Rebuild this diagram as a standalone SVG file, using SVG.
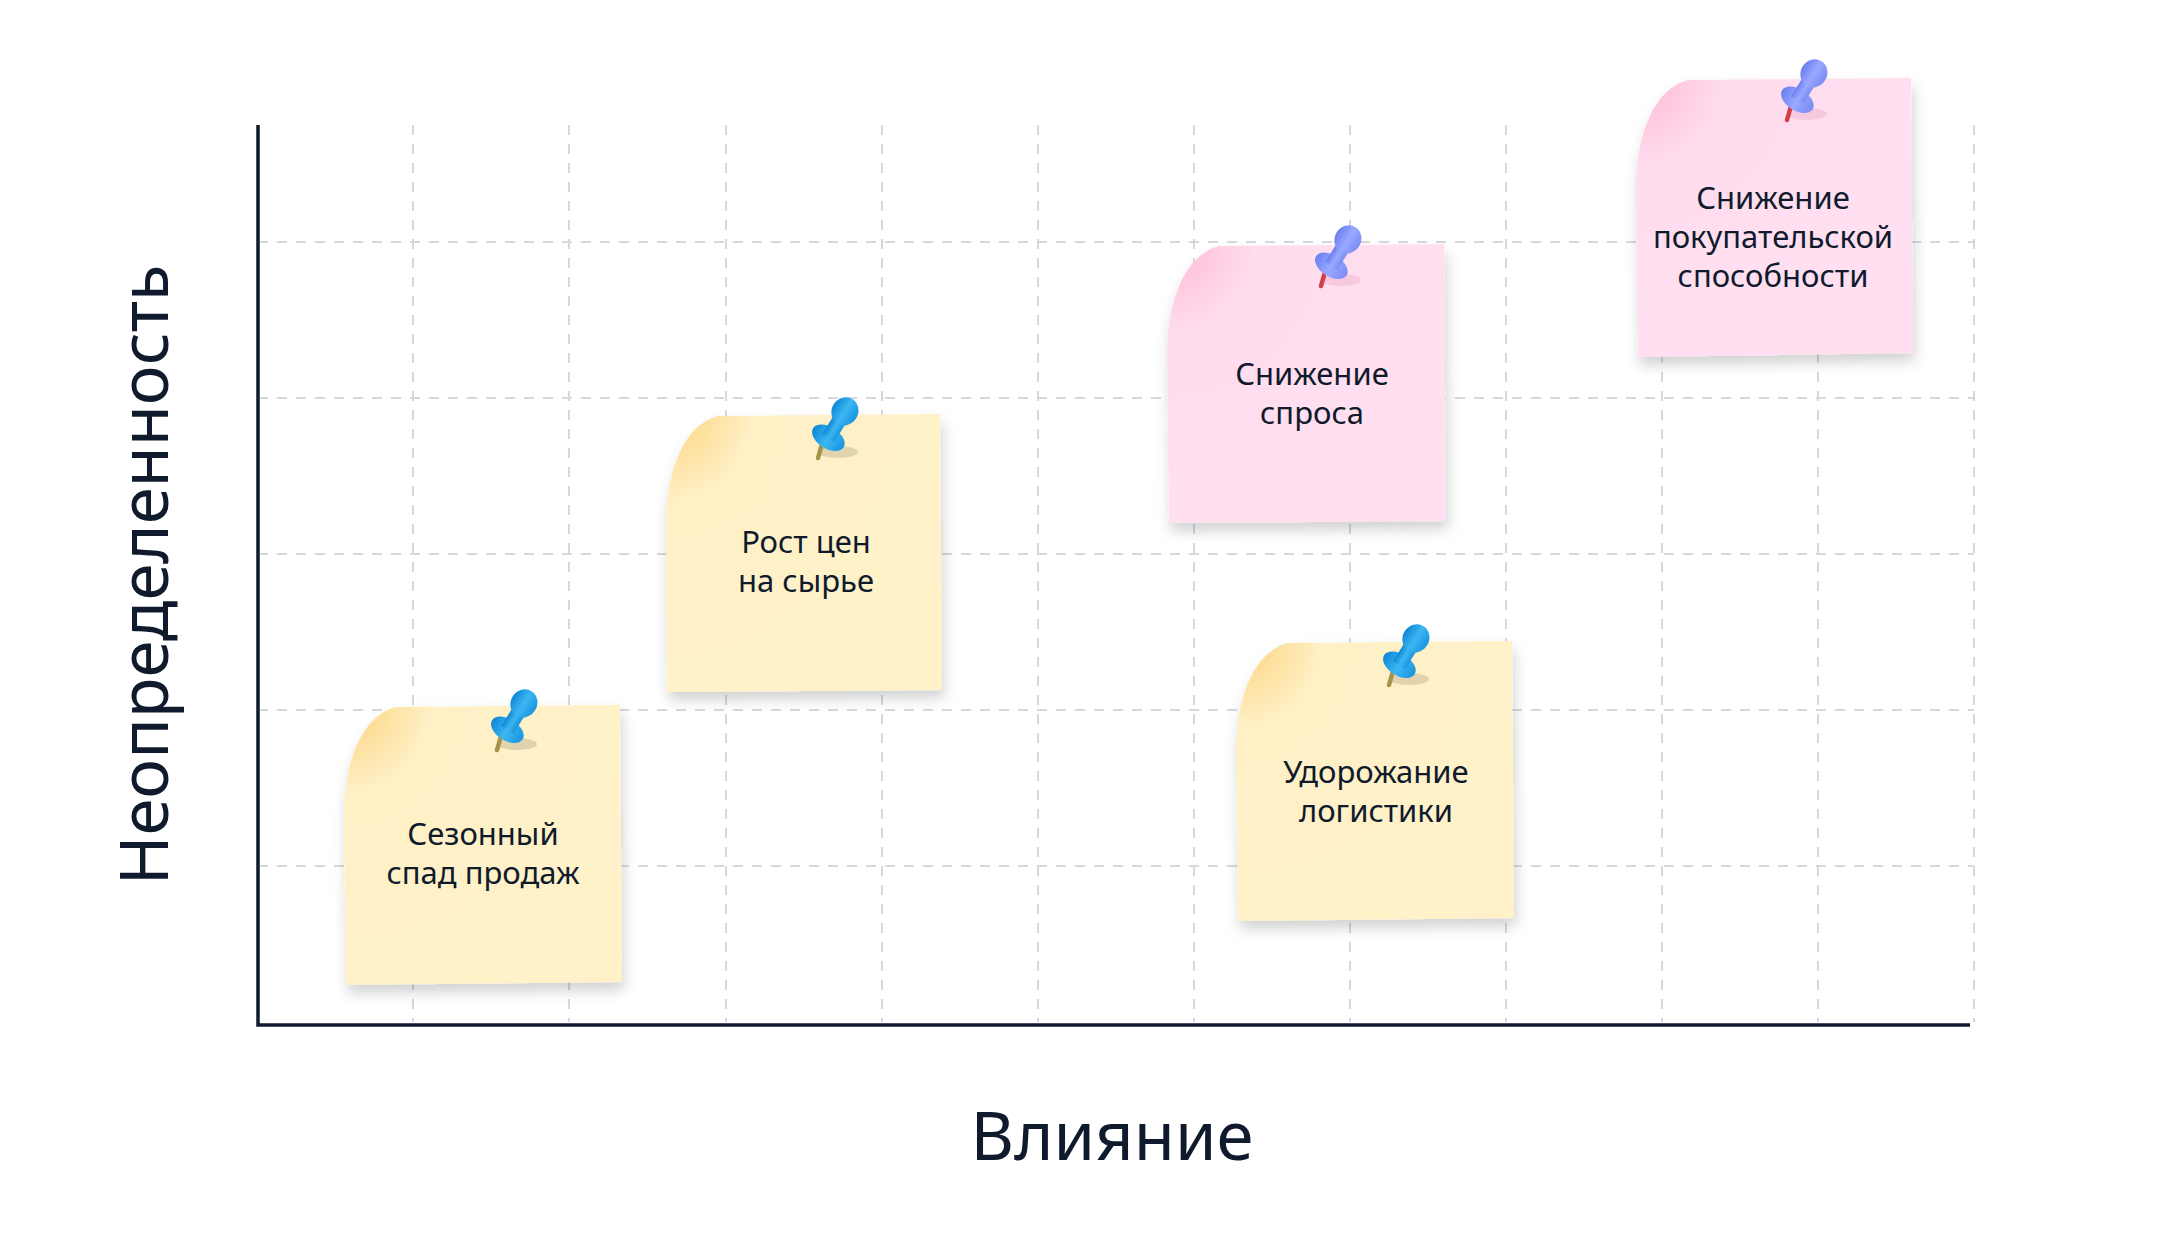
<svg xmlns="http://www.w3.org/2000/svg" width="2160" height="1251" viewBox="0 0 2160 1251">
<defs>
<style>
.grid{stroke:#d6d8dc;stroke-width:2;stroke-dasharray:10 9;fill:none}
.axis{stroke:#0f1b2d;stroke-width:3.5;fill:none}
.nt{font-family:"Noto Sans","Open Sans",sans-serif;font-size:31px;fill:#0f1b2d;text-anchor:middle}
.ax{font-family:"Noto Sans","Open Sans",sans-serif;font-size:67px;fill:#0f1b2d;text-anchor:middle}
</style>
<radialGradient id="gy" cx="0" cy="0" r="0.9">
<stop offset="0" stop-color="#fcd27a"/><stop offset="0.35" stop-color="#fff0c6"/><stop offset="1" stop-color="#fff1c8"/>
</radialGradient>
<radialGradient id="gp" cx="0" cy="0" r="0.9">
<stop offset="0" stop-color="#ffb8d2"/><stop offset="0.35" stop-color="#ffdcee"/><stop offset="1" stop-color="#ffdff0"/>
</radialGradient>
<linearGradient id="pb" x1="0" y1="0" x2="1" y2="0">
<stop offset="0" stop-color="#0d86d6"/><stop offset="0.5" stop-color="#3cb6f2"/><stop offset="1" stop-color="#1a95e0"/>
</linearGradient>
<linearGradient id="pv" x1="0" y1="0" x2="1" y2="0">
<stop offset="0" stop-color="#6b7ff0"/><stop offset="0.5" stop-color="#9aa8ff"/><stop offset="1" stop-color="#7a8cf5"/>
</linearGradient>
<filter id="sh" x="-10%" y="-10%" width="125%" height="130%">
<feDropShadow dx="2" dy="8" stdDeviation="7" flood-color="#000" flood-opacity="0.18"/>
</filter>
<g id="pinB">
<ellipse cx="20" cy="-6" rx="20" ry="6" fill="#000" opacity="0.12"/>
<line x1="0" y1="0" x2="4" y2="-14" stroke="#a8924a" stroke-width="4.5" stroke-linecap="round"/>
<g transform="translate(4 -10) rotate(32) scale(1.2)">
<ellipse cx="0" cy="-10" rx="15" ry="9" fill="url(#pb)"/>
<rect x="-6" y="-32" width="12" height="22" fill="url(#pb)"/>
<ellipse cx="0" cy="-36" rx="11" ry="12" fill="url(#pb)"/>
</g>
</g>
<g id="pinV">
<ellipse cx="20" cy="-6" rx="20" ry="6" fill="#c03060" opacity="0.12"/>
<line x1="0" y1="0" x2="4" y2="-14" stroke="#d0404a" stroke-width="4.5" stroke-linecap="round"/>
<g transform="translate(4 -10) rotate(32) scale(1.2)">
<ellipse cx="0" cy="-10" rx="15" ry="9" fill="url(#pv)"/>
<rect x="-6" y="-32" width="12" height="22" fill="url(#pv)"/>
<ellipse cx="0" cy="-36" rx="11" ry="12" fill="url(#pv)"/>
</g>
</g>
</defs>
<rect width="2160" height="1251" fill="#fff"/>
<g id="grid">
<path class="grid" d="M413 125V1022M569 125V1022M726 125V1022M882 125V1022M1038 125V1022M1194 125V1022M1350 125V1022M1506 125V1022M1662 125V1022M1818 125V1022M1974 125V1022"/>
<path class="grid" d="M258 866H1974M258 710H1974M258 554H1974M258 398H1974M258 242H1974"/>
</g>
<g id="axes">
<path class="axis" d="M258 125V1025H1970"/>
<text class="ax" x="1112" y="1160">Влияние</text>
<text class="ax" transform="translate(168 575) rotate(-90)">Неопределенность</text>
</g>
<g id="note1">
<path filter="url(#sh)" fill="url(#gy)" d="M396 707 L620 705 L622 982 L346 985 L344 810 C345 760 363 715 396 707Z"/>
<use href="#pinB" x="497" y="750"/>
<text class="nt" x="483" y="845">Сезонный</text>
<text class="nt" x="483" y="884">спад продаж</text>
</g>
<g id="note2">
<path filter="url(#sh)" fill="url(#gy)" d="M718 416 L940 414 L942 690 L667 692 L666 519 C667 469 685 424 718 416Z"/>
<use href="#pinB" x="818" y="458"/>
<text class="nt" x="806" y="553">Рост цен</text>
<text class="nt" x="806" y="592">на сырье</text>
</g>
<g id="note3">
<path filter="url(#sh)" fill="url(#gp)" d="M1219 246 L1444 244 L1446 521 L1169 523 L1167 349 C1168 299 1186 254 1219 246Z"/>
<use href="#pinV" x="1321" y="286"/>
<text class="nt" x="1312" y="385">Снижение</text>
<text class="nt" x="1312" y="424">спроса</text>
</g>
<g id="note4">
<path filter="url(#sh)" fill="url(#gy)" d="M1288 643 L1512 641 L1514 918 L1238 921 L1236 746 C1237 696 1255 651 1288 643Z"/>
<use href="#pinB" x="1389" y="685"/>
<text class="nt" x="1376" y="783">Удорожание</text>
<text class="nt" x="1376" y="822">логистики</text>
</g>
<g id="note5">
<path filter="url(#sh)" fill="url(#gp)" d="M1688 80 L1911 78 L1913 353 L1638 357 L1636 183 C1637 133 1655 88 1688 80Z"/>
<use href="#pinV" x="1787" y="120"/>
<text class="nt" x="1773" y="209">Снижение</text>
<text class="nt" x="1773" y="248">покупательской</text>
<text class="nt" x="1773" y="287">способности</text>
</g>
</svg>
